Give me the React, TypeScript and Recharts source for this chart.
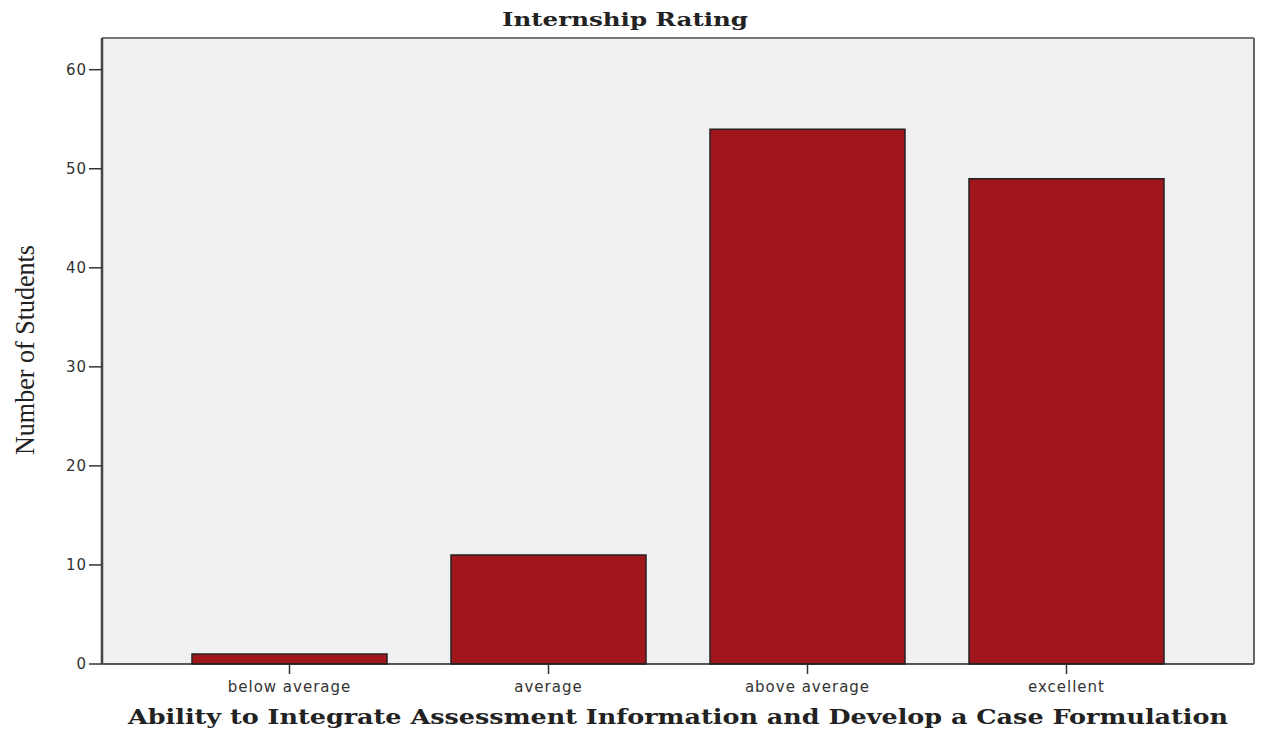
import { BarChart, Bar, XAxis, YAxis, CartesianGrid, Customized } from 'recharts';

const categories = ['below average', 'average', 'above average', 'excellent'];
const students = [1, 11, 54, 49];
const yTicks = [0, 10, 20, 30, 40, 50, 60];

const chartData = categories.map((rating, i) => ({ rating, count: students[i] }));

const tickStyle = { fontSize: 15, fill: '#333', fontFamily: 'DejaVu Sans', letterSpacing: 1 };

function Titles() {
  return (
    <g>
      <text
        x={625}
        y={26}
        textAnchor="middle"
        fontFamily="DejaVu Serif"
        fontWeight="bold"
        fontSize={19}
        fill="#222"
        textLength={246}
        lengthAdjust="spacingAndGlyphs"
      >
        Internship Rating
      </text>
      <text
        x={678}
        y={724}
        textAnchor="middle"
        fontFamily="DejaVu Serif"
        fontWeight="bold"
        fontSize={20}
        fill="#222"
        textLength={1100}
        lengthAdjust="spacingAndGlyphs"
      >
        Ability to Integrate Assessment Information and Develop a Case Formulation
      </text>
      <text
        x={34}
        y={350}
        textAnchor="middle"
        fontFamily="Liberation Serif"
        fontSize={27}
        fill="#222"
        transform="rotate(-90 34 350)"
        textLength={210}
        lengthAdjust="spacingAndGlyphs"
      >
        Number of Students
      </text>
    </g>
  );
}

export default function App() {
  return (
    <div style={{ position: 'absolute', left: 0, top: 0, width: 1261, height: 732, background: '#fff' }}>
      <BarChart
        width={1261}
        height={732}
        data={chartData}
        margin={{ top: 36, right: 5, bottom: 38, left: 42 }}
      >
        <CartesianGrid horizontal={false} vertical={false} fill="#f0f0f0" />
        <XAxis
          dataKey="rating"
          height={30}
          padding={{ left: 58, right: 58 }}
          tick={tickStyle}
          tickSize={10}
          tickMargin={7}
          tickLine={{ stroke: '#333', strokeWidth: 1.5 }}
          axisLine={{ stroke: '#222', strokeWidth: 1.5 }}
        />
        <XAxis
          xAxisId="top"
          orientation="top"
          dataKey="rating"
          height={2}
          tick={false}
          tickLine={false}
          axisLine={{ stroke: '#777', strokeWidth: 2 }}
        />
        <YAxis
          width={60}
          domain={[0, 63.2]}
          ticks={yTicks}
          tick={tickStyle}
          tickSize={13}
          tickMargin={2}
          tickLine={{ stroke: '#333', strokeWidth: 1.5 }}
          axisLine={{ stroke: '#444', strokeWidth: 2.5 }}
        />
        <YAxis
          yAxisId="right"
          orientation="right"
          width={2}
          domain={[0, 63.2]}
          tick={false}
          tickLine={false}
          axisLine={{ stroke: '#666', strokeWidth: 2 }}
        />
        <Bar
          dataKey="count"
          barSize={195}
          fill="#a0161a"
          stroke="#222"
          strokeWidth={1.5}
          isAnimationActive={false}
        />
        <Customized component={Titles} />
      </BarChart>
    </div>
  );
}
